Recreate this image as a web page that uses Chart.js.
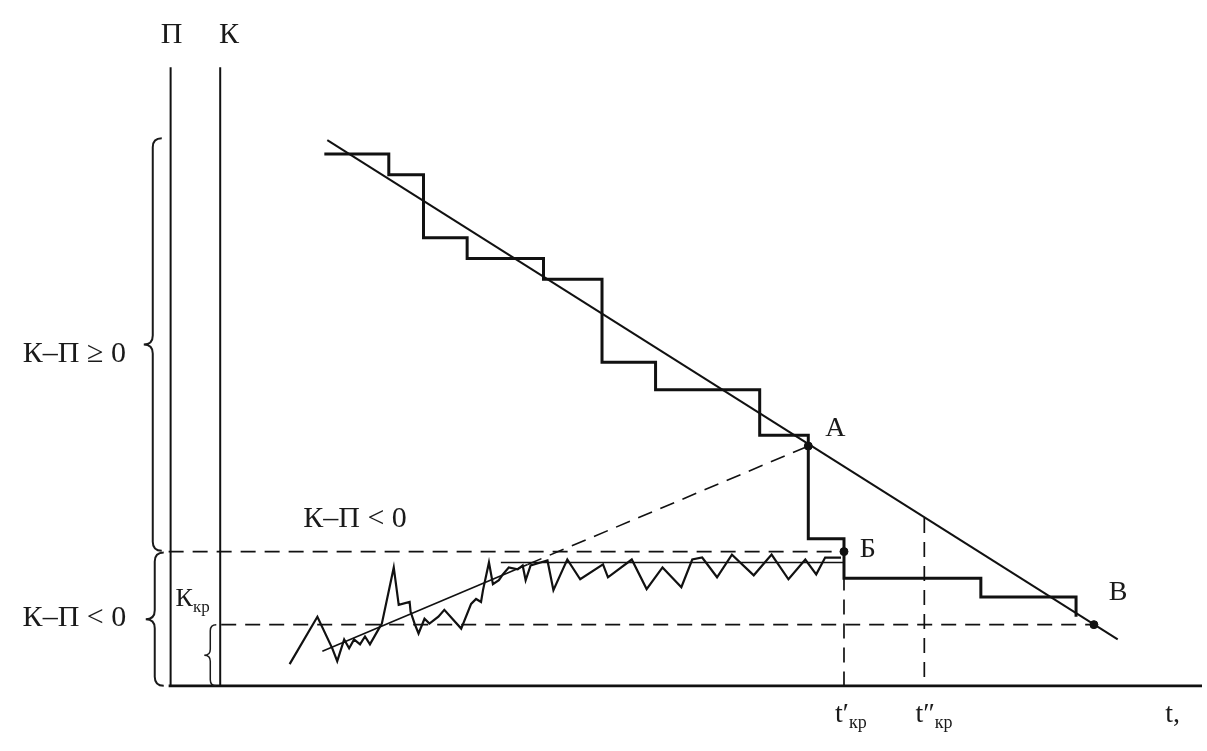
<!DOCTYPE html>
<html>
<head>
<meta charset="utf-8">
<script src="https://cdn.jsdelivr.net/npm/chart.js@4"></script>
<style>
  html, body { margin: 0; padding: 0; background: #fff; }
  #wrap { width: 1207px; height: 751px; }
</style>
</head>
<body>
<div id="wrap"><canvas id="schemeChart"></canvas></div>
<script>
// time t (x) and value (y) in abstract units, origin at K axis / baseline
const stepTimes = [10.5, 17.0, 20.5, 24.9, 32.6, 38.5, 43.9, 54.4, 59.3, 62.9, 76.7, 86.3];
const stepLevels = [53.9, 51.8, 45.4, 43.3, 41.2, 32.8, 30.0, 25.4, 14.9, 10.9, 9.0, 7.0];

const trendTimes = [10.8, 90.5];
const trendLevels = [55.3, 4.7];

const zigTimes = [7.0, 9.8, 11.3, 11.8, 12.5, 13.0, 13.5, 14.1, 14.6, 15.1, 16.0, 16.3, 17.5, 18.0, 19.1, 19.2,
  19.6, 20.0, 20.6, 21.1, 22.0, 22.6, 24.3, 25.3, 25.8, 26.3, 26.5, 27.1, 27.5, 28.1, 28.5, 29.1, 30.0, 30.5,
  30.8, 31.3, 32.3, 33.0, 33.6, 34.5, 35.0, 36.3, 38.6, 39.1, 41.5, 43.0, 44.6, 46.5, 47.6, 48.6, 50.1, 51.6,
  53.8, 55.6, 57.3, 59.0, 60.1, 61.0, 62.6];
const zigLevels = [2.2, 7.0, 3.8, 2.5, 4.7, 3.8, 4.7, 4.2, 5.0, 4.2, 5.8, 6.3, 12.0, 8.2, 8.5, 7.5,
  6.3, 5.3, 6.8, 6.3, 7.0, 7.7, 5.8, 8.3, 8.8, 8.5, 9.7, 12.5, 10.3, 10.7, 11.3, 12.0, 11.8, 12.2,
  10.7, 12.2, 12.5, 12.7, 9.7, 11.7, 12.8, 10.8, 12.3, 11.0, 12.8, 9.8, 12.0, 10.0, 12.8, 13.0, 11.0, 13.3,
  11.2, 13.3, 10.8, 12.8, 11.3, 13.0, 13.0];

const plateauTimes = [28.3, 62.9];
const plateauLevels = [12.5, 12.5];

// rising trend: solid part, then dashed to point A
const riseTimes = [10.3, 31.0];
const riseLevels = [3.5, 12.3];
const riseDashTimes = [31.0, 59.3];
const riseDashLevels = [12.3, 24.3];

const pointNames = ['А', 'Б', 'В'];
const pointTimes = [59.3, 62.9, 88.1];
const pointLevels = [24.3, 13.6, 6.2];

const kLevel = 13.6;      // K-П = 0 boundary
const kCrit = 6.2;        // Kкр
const tCrit1 = 62.9;
const tCrit2 = 71.0;
const tCrit2Top = 17.0;
const axisTop = 62.7;
const pAxisTime = -5.0;
const tEnd = 99;

function pts(xs, ys) {
  return xs.map((x, i) => ({ x: x, y: ys[i] }));
}

function lineSet(data, width, dash) {
  return {
    data: data,
    borderColor: '#111',
    borderWidth: width,
    borderDash: dash || [],
    pointRadius: 0,
    fill: false,
    tension: 0
  };
}

const DASH = [15, 9];

const datasets = [
  lineSet(pts([-5.2, tEnd], [0, 0]), 2.8),
  lineSet(pts([pAxisTime, pAxisTime], [0, axisTop]), 2),
  lineSet(pts([0, 0], [0, axisTop]), 2),
  lineSet(pts([-5.2, tCrit1], [kLevel, kLevel]), 1.7, DASH),
  lineSet(pts([0.1, pointTimes[2]], [kCrit, kCrit]), 1.7, DASH),
  lineSet(pts([tCrit1, tCrit1], [kLevel, 0]), 1.7, DASH),
  lineSet(pts([tCrit2, tCrit2], [tCrit2Top, 0]), 1.7, DASH),
  lineSet(pts(riseTimes, riseLevels), 1.6),
  lineSet(pts(riseDashTimes, riseDashLevels), 1.6, DASH),
  lineSet(pts(plateauTimes, plateauLevels), 1.4),
  lineSet(pts(zigTimes, zigLevels), 2.2),
  lineSet(pts(trendTimes, trendLevels), 2),
  Object.assign(lineSet(pts(stepTimes, stepLevels), 3), { stepped: true }),
  {
    data: pts(pointTimes, pointLevels),
    showLine: false,
    pointRadius: 4,
    pointBackgroundColor: '#111',
    pointBorderColor: '#111'
  }
];

const SERIF = '"Liberation Serif", "Times New Roman", serif';

function brace(ctx, x, y1, y2, w) {
  const ym = (y1 + y2) / 2;
  ctx.beginPath();
  ctx.moveTo(x + w, y1);
  ctx.quadraticCurveTo(x, y1, x, y1 + w);
  ctx.lineTo(x, ym - w);
  ctx.quadraticCurveTo(x, ym, x - w, ym);
  ctx.quadraticCurveTo(x, ym, x, ym + w);
  ctx.lineTo(x, y2 - w);
  ctx.quadraticCurveTo(x, y2, x + w, y2);
  ctx.stroke();
}

function subText(ctx, x, y, main, sub, size, subSize) {
  ctx.font = size + 'px ' + SERIF;
  ctx.textAlign = 'left';
  ctx.textBaseline = 'middle';
  const w = ctx.measureText(main).width;
  ctx.fillText(main, x, y);
  ctx.font = subSize + 'px ' + SERIF;
  ctx.fillText(sub, x + w, y + size * 0.32);
}

const annotations = {
  id: 'annotations',
  afterDatasetsDraw(chart) {
    const ctx = chart.ctx;
    const xs = chart.scales.x;
    const ys = chart.scales.y;
    const X = v => xs.getPixelForValue(v);
    const Y = v => ys.getPixelForValue(v);
    ctx.save();
    ctx.fillStyle = '#1a1a1a';
    ctx.strokeStyle = '#1a1a1a';
    ctx.lineWidth = 2;

    // braces
    brace(ctx, X(-6.8), Y(55.5), Y(kLevel + 0.1), 9);
    brace(ctx, X(-6.6), Y(kLevel - 0.1), Y(0), 9);
    ctx.lineWidth = 1.5;
    brace(ctx, X(-1.0), Y(kCrit), Y(0), 6);

    ctx.textBaseline = 'middle';
    ctx.textAlign = 'center';
    ctx.font = '30px ' + SERIF;
    ctx.fillText('П', X(-4.9), Y(65.9));
    ctx.fillText('К', X(0.9), Y(65.9));
    ctx.fillText('К–П ≥ 0', X(-14.7), Y(33.6));
    ctx.fillText('К–П < 0', X(-14.7), Y(6.9));
    ctx.fillText('К–П < 0', X(13.6), Y(16.9));

    ctx.textAlign = 'left';
    ctx.font = '28px ' + SERIF;
    ctx.fillText(pointNames[0], X(61.0), Y(26.1));
    ctx.fillText(pointNames[1], X(64.5), Y(13.8));
    ctx.fillText(pointNames[2], X(89.6), Y(9.4));

    subText(ctx, X(-4.5), Y(8.8), 'К', 'кр', 26, 17);
    subText(ctx, X(tCrit1 - 0.9), Y(-2.9), 't′', 'кр', 28, 18);
    subText(ctx, X(tCrit2 - 0.9), Y(-2.9), 't″', 'кр', 28, 18);
    ctx.font = '28px ' + SERIF;
    ctx.fillText('t,', X(95.3), Y(-2.9));
    ctx.restore();
  }
};

new Chart(document.getElementById('schemeChart'), {
  type: 'line',
  data: { datasets: datasets },
  options: {
    responsive: true,
    maintainAspectRatio: false,
    animation: false,
    layout: { padding: 0 },
    plugins: { legend: { display: false }, tooltip: { enabled: false } },
    scales: {
      x: { type: 'linear', min: -21.7, max: 99, display: false },
      y: { type: 'linear', min: -6.1, max: 69, display: false }
    }
  },
  plugins: [annotations]
});
</script>
</body>
</html>
